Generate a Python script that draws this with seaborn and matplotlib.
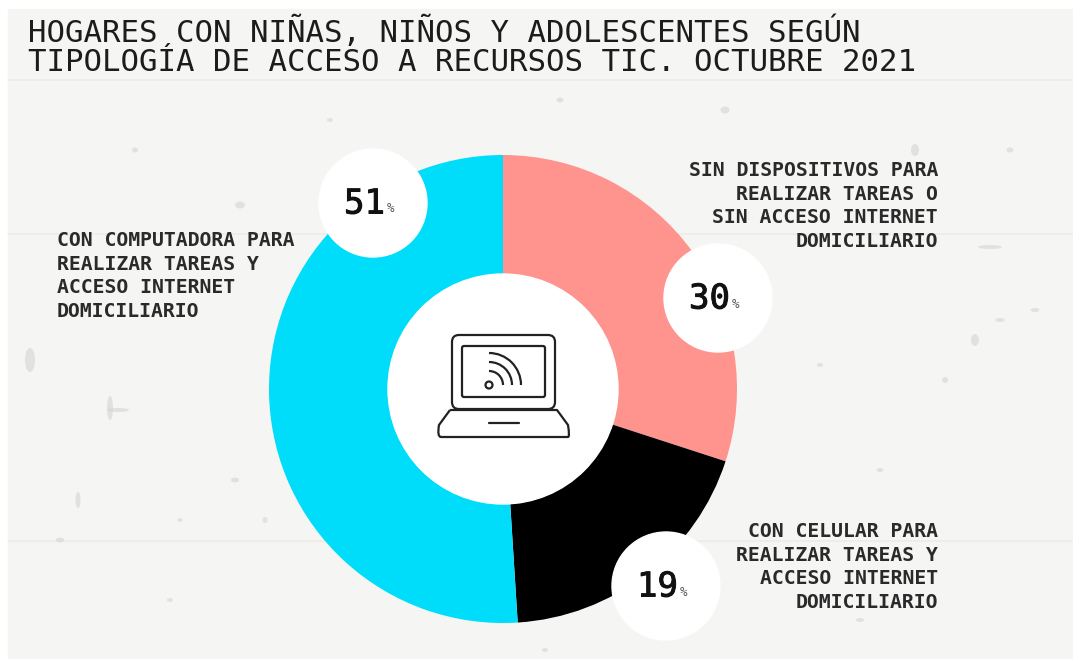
import matplotlib
matplotlib.use("Agg")
import matplotlib.pyplot as plt
import matplotlib.patheffects as pe
import seaborn as sns
from matplotlib.patches import Rectangle, Circle, FancyBboxPatch, Arc, Ellipse, PathPatch
from matplotlib.path import Path

# data
categories = ["SIN DISPOSITIVOS PARA\nREALIZAR TAREAS O\nSIN ACCESO INTERNET\nDOMICILIARIO",
              "CON CELULAR PARA\nREALIZAR TAREAS Y\nACCESO INTERNET\nDOMICILIARIO",
              "CON COMPUTADORA PARA\nREALIZAR TAREAS Y\nACCESO INTERNET\nDOMICILIARIO"]
values = [30, 19, 51]
colors = ["#FF948F", "#000000", "#00DDFB"]
title = "HOGARES CON NIÑAS, NIÑOS Y ADOLESCENTES SEGÚN\nTIPOLOGÍA DE ACCESO A RECURSOS TIC. OCTUBRE 2021"

W, H = 1073, 661
MONO = "DejaVu Sans Mono"

sns.set_theme(style="white")
palette = sns.color_palette(colors)

fig = plt.figure(figsize=(W / 100, H / 100), dpi=100)
ax = fig.add_axes([0, 0, 1, 1])


def py(y):
    # picture y (from the top) to axes y
    return H - y


# concrete wall background
ax.add_patch(Rectangle((8, py(658)), W - 8, 649, color="#F5F5F4", zorder=0))
for line_y in [80, 234, 541]:
    ax.plot([8, W], [py(line_y), py(line_y)], color="#ECECEB", lw=1.2, zorder=0.4)
specks = [(240, 205, 10, 7), (78, 500, 5, 16), (110, 408, 6, 24), (118, 410, 22, 4), (725, 110, 9, 7),
          (915, 150, 8, 12), (990, 247, 24, 4), (60, 540, 8, 5), (170, 600, 6, 4), (1010, 150, 7, 5),
          (560, 100, 7, 5), (860, 620, 8, 4), (30, 360, 10, 24), (235, 480, 8, 5), (330, 120, 6, 4),
          (945, 380, 6, 6), (880, 470, 7, 4), (1000, 320, 10, 4), (820, 365, 6, 4), (975, 340, 8, 12),
          (1035, 310, 9, 4), (135, 150, 6, 5), (265, 520, 5, 6), (545, 650, 6, 4), (180, 520, 5, 4)]
for sx, sy, sw, sh in specks:
    ax.add_patch(Ellipse((sx, py(sy)), sw, sh, color="#D4D4D2", alpha=0.6, lw=0, zorder=0.5))

# donut
wedges, _ = ax.pie(values, colors=palette, startangle=90, counterclock=False,
                   center=(503, py(389)), radius=234, frame=True,
                   wedgeprops=dict(width=119, linewidth=0))
ax.add_patch(Circle((503, py(389)), 115, color="white", zorder=3))

ax.set_xlim(0, W)
ax.set_ylim(0, H)
ax.set_aspect("equal")
ax.axis("off")

# value badges: same order as values
badges = [(718, 298), (666, 586), (373, 203)]
for (bx, by), v in zip(badges, values):
    ax.add_patch(Circle((bx, py(by)), 54, color="white", zorder=4))
    num = ax.text(bx + 12, py(by + 1), str(v), family=MONO, fontsize=24.5, color="#111111",
                  ha="right", va="center", zorder=5)
    num.set_path_effects([pe.withStroke(linewidth=0.7, foreground="#111111")])
    ax.text(bx + 14, py(by + 6), "%", family=MONO, fontsize=9, color="#555555",
            ha="left", va="center", zorder=5)

# labels
lab_style = dict(family=MONO, fontsize=14.2, color="#2a2a2a", weight="bold", linespacing=1.31,
                 va="center", zorder=5)
ax.text(938, py(206), categories[0], ha="right", multialignment="right", **lab_style)
ax.text(938, py(567), categories[1], ha="right", multialignment="right", **lab_style)
ax.text(57, py(276), categories[2], ha="left", multialignment="left", **lab_style)

ax.text(28, py(46), title, family=MONO, fontsize=22.15, color="#1c1c1c", linespacing=1.02,
        ha="left", va="center", zorder=5)

# laptop icon
lw = 1.6
ic = "#222222"
ax.add_patch(FancyBboxPatch((452, py(409)), 103, 74, boxstyle="round,pad=0,rounding_size=7",
                            fc="none", ec=ic, lw=lw, zorder=6))
ax.add_patch(FancyBboxPatch((462, py(397)), 83, 51, boxstyle="round,pad=0,rounding_size=2",
                            fc="none", ec=ic, lw=lw, zorder=6))
ax.add_patch(Circle((489, py(385)), 3.5, fc="none", ec=ic, lw=lw, zorder=6))
for d in [14, 23, 32]:
    ax.add_patch(Arc((489, py(385)), 2 * d, 2 * d, theta1=0, theta2=90, ec=ic, lw=lw, zorder=6))
base = Path([(450, py(410)), (557, py(410)), (568, py(425)), (570, py(437)), (568, py(437)),
             (441, py(437)), (437, py(437)), (439, py(425)), (450, py(410))],
            [Path.MOVETO, Path.LINETO, Path.LINETO, Path.CURVE3, Path.CURVE3,
             Path.LINETO, Path.CURVE3, Path.CURVE3, Path.LINETO])
ax.add_patch(PathPatch(base, fc="none", ec=ic, lw=lw, joinstyle="round", zorder=6))
ax.plot([489, 519], [py(423), py(423)], color=ic, lw=lw, zorder=6)

fig.savefig("out.png", dpi=100)
